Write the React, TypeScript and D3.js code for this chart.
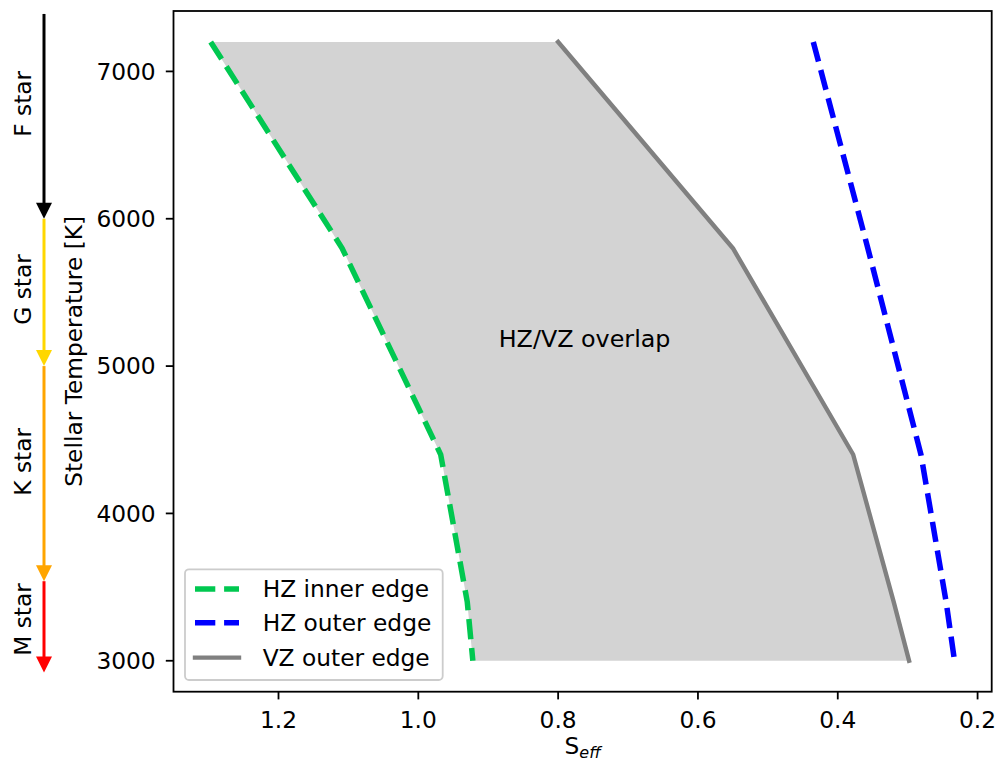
import React from "react";
import * as d3 from "d3";

// Stellar effective temperature samples [K]
const temps = [7200, 5800, 4400, 3400, 3000];
// Effective stellar flux at each temperature
const hzInner = [1.297, 1.109, 0.968, 0.93, 0.922];
const hzOuter = [0.435, 0.357, 0.281, 0.245, 0.233];
const vzOuter = [0.8, 0.55, 0.378, 0.32, 0.298];

const xTicks = [1.2, 1.0, 0.8, 0.6, 0.4, 0.2];
const yTicks = [3000, 4000, 5000, 6000, 7000];

const seriesNames = ["HZ inner edge", "HZ outer edge", "VZ outer edge"];

const starClasses = ["F star", "G star", "K star", "M star"];
const starColors = ["#000000", "#ffd700", "#ffa500", "#ff0000"];
const classBounds = [7390, 6000, 5000, 3540, 2920];
const classLabelT = [6780, 5520, 4350, 3280];

const W = 998;
const H = 763;
const L = 173.5;
const R = 991.7;
const TOP = 11;
const BOT = 691.7;
const FONT = "'DejaVu Sans', sans-serif";
const FS = 23.3;

export default function App() {
  const allX = [...hzInner, ...hzOuter, ...vzOuter];
  const [xmin, xmax] = d3.extent(allX) as [number, number];
  const xm = (xmax - xmin) * 0.05;
  const x = d3.scaleLinear().domain([xmax + xm, xmin - xm]).range([L, R]);
  const [tmin, tmax] = d3.extent(temps) as [number, number];
  const ym = (tmax - tmin) * 0.05;
  const y = d3.scaleLinear().domain([tmin - ym, tmax + ym]).range([BOT, TOP]);

  const idx = temps.map((_, i) => i);
  const area = d3
    .area<number>()
    .y((i) => y(temps[i]))
    .x0((i) => x(hzInner[i]))
    .x1((i) => x(vzOuter[i]));
  const line = (vals: number[]) =>
    d3
      .line<number>()
      .x((i) => x(vals[i]))
      .y((i) => y(temps[i]))(idx) as string;

  const dashW = 5.5;
  const dash = "20.3 8.8";
  const greyW = 4.4;

  const legX = 185;
  const legY = 569.3;
  const legW = 257.7;
  const legH = 110.7;
  const rows = [589, 622.8, 657.6];

  const arrowX = 44;
  const headL = 16;
  const headW = 16;

  return (
    <svg
      width={W}
      height={H}
      style={{ position: "absolute", left: 0, top: 0, background: "#fff" }}
      fontFamily={FONT}
    >
      <rect x={0} y={0} width={W} height={H} fill="#fff" />
      {/* fill */}
      <path d={area(idx) as string} fill="#d3d3d3" stroke="none" />
      <path d={line(hzInner)} fill="none" stroke="#00c850" strokeWidth={dashW} strokeDasharray={dash} />
      <path d={line(hzOuter)} fill="none" stroke="#0000ff" strokeWidth={dashW} strokeDasharray={dash} />
      <path d={line(vzOuter)} fill="none" stroke="#808080" strokeWidth={greyW} strokeLinecap="square" strokeLinejoin="round" />
      <text x={x(0.885)} y={y(5130)} fontSize={23.8} fill="#000">
        HZ/VZ overlap
      </text>

      {/* spines */}
      <rect x={L} y={TOP} width={R - L} height={BOT - TOP} fill="none" stroke="#000" strokeWidth={1.8} />

      {/* x ticks */}
      {xTicks.map((t) => (
        <g key={"x" + t}>
          <line x1={x(t)} x2={x(t)} y1={BOT} y2={BOT + 7.7} stroke="#000" strokeWidth={1.8} />
          <text x={x(t)} y={727.7} fontSize={FS} textAnchor="middle">
            {t.toFixed(1)}
          </text>
        </g>
      ))}
      {/* y ticks */}
      {yTicks.map((t) => (
        <g key={"y" + t}>
          <line x1={L - 7.7} x2={L} y1={y(t)} y2={y(t)} stroke="#000" strokeWidth={1.8} />
          <text x={155.7} y={y(t) + 8.3} fontSize={FS} textAnchor="end">
            {t}
          </text>
        </g>
      ))}

      {/* axis labels */}
      <text x={(L + R) / 2} y={754} fontSize={FS} textAnchor="middle">
        S<tspan fontStyle="italic" fontSize={16} dy={4}>eff</tspan>
      </text>
      <text
        transform={`translate(81.5,${(TOP + BOT) / 2}) rotate(-90)`}
        fontSize={FS}
        textAnchor="middle"
      >
        Stellar Temperature [K]
      </text>

      {/* legend */}
      <rect x={legX} y={legY} width={legW} height={legH} rx={4} fill="#fff" fillOpacity={0.8} stroke="#cccccc" strokeWidth={1.8} />
      {seriesNames.map((name, i) => (
        <g key={name}>
          <line
            x1={195}
            x2={239}
            y1={rows[i]}
            y2={rows[i]}
            stroke={i === 0 ? "#00c850" : i === 1 ? "#0000ff" : "#808080"}
            strokeWidth={i === 2 ? greyW : dashW}
            strokeDasharray={i === 2 ? undefined : dash}
            strokeLinecap={i === 2 ? "square" : "butt"}
          />
          <text x={262.7} y={rows[i] + 8.3} fontSize={FS}>
            {name}
          </text>
        </g>
      ))}

      {/* stellar class arrows */}
      {starClasses.map((c, i) => {
        const y0 = y(classBounds[i]);
        const y1 = y(classBounds[i + 1]);
        return (
          <g key={c}>
            <line x1={arrowX} x2={arrowX} y1={y0} y2={y1 - headL + 1} stroke={starColors[i]} strokeWidth={3} />
            <polygon
              points={`${arrowX - headW / 2},${y1 - headL} ${arrowX + headW / 2},${y1 - headL} ${arrowX},${y1}`}
              fill={starColors[i]}
            />
            <text
              transform={`translate(30.5,${y(classLabelT[i])}) rotate(-90)`}
              fontSize={FS}
              textAnchor="middle"
            >
              {c}
            </text>
          </g>
        );
      })}
    </svg>
  );
}
